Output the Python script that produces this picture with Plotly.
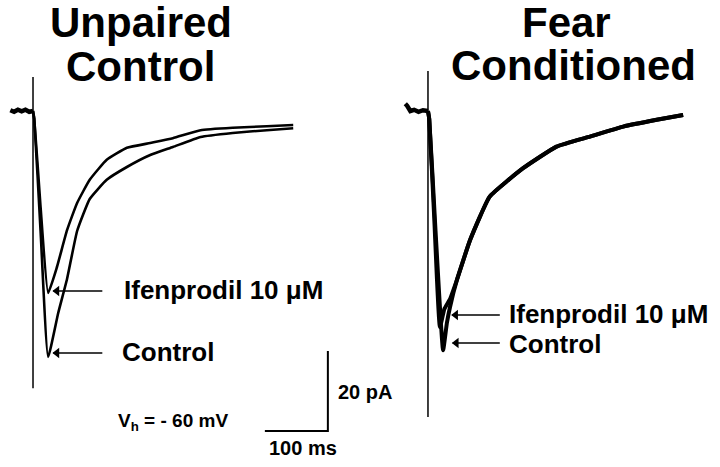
import plotly.graph_objects as go

# Whole-cell EPSC traces, time in ms from stimulus, current in pA (baseline = 0)

# Unpaired control panel
up_base_t = [-36, -30, -24, -18, -12, -6, 0]
up_base_i = [0.2, -0.2, 0.3, -0.1, 0.3, -0.2, 0]

up_ctrl_t = [0, 2, 12, 24, 40, 54, 70, 90, 117, 149, 186, 222, 266, 317, 371, 413]
up_ctrl_i = [0, -2, -30, -61.5, -50.5, -42, -30, -22, -17.2, -14, -11, -9, -6.5, -5.5, -4.8, -4.3]

up_ifen_t = [0, 2, 12, 24, 38, 54, 70, 90, 117, 149, 186, 222, 266, 317, 371, 413]
up_ifen_i = [0, -2, -24, -45.5, -39, -29.8, -23, -17.2, -12.2, -9.2, -8, -6.8, -4.8, -4.2, -3.8, -3.5]

# Fear conditioned panel
fc_base_t = [-36, -33, -28, -22, -15, -8, 0]
fc_base_i = [1.8, 1.3, 0, 0.3, -0.2, 0.2, 0]

fc_ctrl_t = [0, 2, 12, 24, 30, 35, 46, 67, 98, 151, 204, 257, 310, 363, 405]
fc_ctrl_i = [0, -2, -30, -59.8, -53, -49, -42.2, -32.2, -21.4, -14.3, -8.9, -6.4, -3.9, -2.2, -1]

fc_ifen_t = [0, 2, 10, 19, 26, 35, 46, 67, 98, 151, 204, 257, 310, 363, 405]
fc_ifen_i = [0, -2, -27, -54, -49.5, -47, -42.2, -32.2, -21.4, -14.3, -8.9, -6.4, -3.9, -2.2, -1]

# stimulus artifact
art_top = [8.5, 10]
art_bottom = [-69.3, -76.5]

# scale bar
bar_ms = 100
bar_pa = 20
bar_end_t = 468
bar_low_i = -80

fig = go.Figure()

for ax, bt, bi, ct, ci, it, ii, top, bot in [
    ("", up_base_t, up_base_i, up_ctrl_t, up_ctrl_i, up_ifen_t, up_ifen_i, art_top[0], art_bottom[0]),
    ("2", fc_base_t, fc_base_i, fc_ctrl_t, fc_ctrl_i, fc_ifen_t, fc_ifen_i, art_top[1], art_bottom[1]),
]:
    xa, ya = "x" + ax, "y" + ax
    w = 2.6 if ax == "" else 4
    fig.add_trace(go.Scatter(x=bt, y=bi, mode="lines", line=dict(color="black", width=4.5), xaxis=xa, yaxis=ya))
    fig.add_trace(go.Scatter(x=ct, y=ci, mode="lines", line=dict(color="black", width=w, shape="spline", smoothing=0.4),
                             xaxis=xa, yaxis=ya))
    fig.add_trace(go.Scatter(x=it, y=ii, mode="lines", line=dict(color="black", width=w, shape="spline", smoothing=0.4),
                             xaxis=xa, yaxis=ya))
    fig.add_trace(go.Scatter(x=[0, 0], y=[top, bot], mode="lines", line=dict(color="black", width=1.5), xaxis=xa, yaxis=ya))

# scale bars
fig.add_trace(go.Scatter(
    x=[bar_end_t - bar_ms, bar_end_t, bar_end_t],
    y=[bar_low_i, bar_low_i, bar_low_i + bar_pa],
    mode="lines", line=dict(color="black", width=2)))

# arrows pointing at the peaks (line + filled head)
arrows = [
    ("x", "y", up_ifen_t[3] + 8, up_ifen_i[3] + 0.5, 110),
    ("x", "y", up_ctrl_t[3] + 8, up_ctrl_i[3] + 1, 110),
    ("x2", "y2", fc_ifen_t[3] + 19, fc_ifen_i[3] + 3, 114),
    ("x2", "y2", fc_ctrl_t[3] + 15, fc_ctrl_i[3] + 1.8, 114),
]
for xr, yr, tx, ty, sx in arrows:
    fig.add_trace(go.Scatter(x=[sx, tx], y=[ty, ty], mode="lines", xaxis=xr, yaxis=yr,
                             line=dict(color="black", width=1.5)))
    fig.add_trace(go.Scatter(x=[tx + 6], y=[ty], mode="markers", xaxis=xr, yaxis=yr,
                             marker=dict(symbol="triangle-left", size=9, color="black")))

fig.update_layout(
    width=720, height=467,
    margin=dict(l=0, r=0, t=0, b=0),
    paper_bgcolor="white", plot_bgcolor="white",
    showlegend=False,
    xaxis=dict(domain=[0, 0.5], range=[-52.4, 519], visible=False),
    xaxis2=dict(domain=[0.5, 1], range=[-107.9, 463.5], visible=False),
    yaxis=dict(range=[-89, 27.75], visible=False),
    yaxis2=dict(range=[-89, 27.75], visible=False, anchor="x2"),
    font=dict(family="Liberation Sans", color="black"),
)

def px(x, y):
    return x / 720, 1 - y / 467

anns = [
    ("Unpaired", 141, 22, 42, "center"),
    ("Control", 140, 67, 42, "center"),
    ("Fear", 566, 22, 42, "center"),
    ("Conditioned", 573, 66, 42, "center"),
    ("Ifenprodil 10 \u03bcM", 122, 290, 26, "left"),
    ("Control", 120, 352, 26, "left"),
    ("Ifenprodil 10 \u03bcM", 507, 314, 26, "left"),
    ("Control", 507, 344, 26, "left"),
    ("20 pA", 336, 392, 20, "left"),
    ("100 ms", 267, 448, 20, "left"),
    ("V<sub>h</sub> = - 60 mV", 116, 422, 19, "left"),
]
for txt, x, y, size, anc in anns:
    xx, yy = px(x, y)
    fig.add_annotation(x=xx, y=yy, xref="paper", yref="paper", text="<b>" + txt + "</b>",
                       showarrow=False, xanchor=anc, yanchor="middle", font=dict(size=size))

fig.write_html("out.html", config={"displayModeBar": False},
               post_script="document.body.style.margin='0';")
